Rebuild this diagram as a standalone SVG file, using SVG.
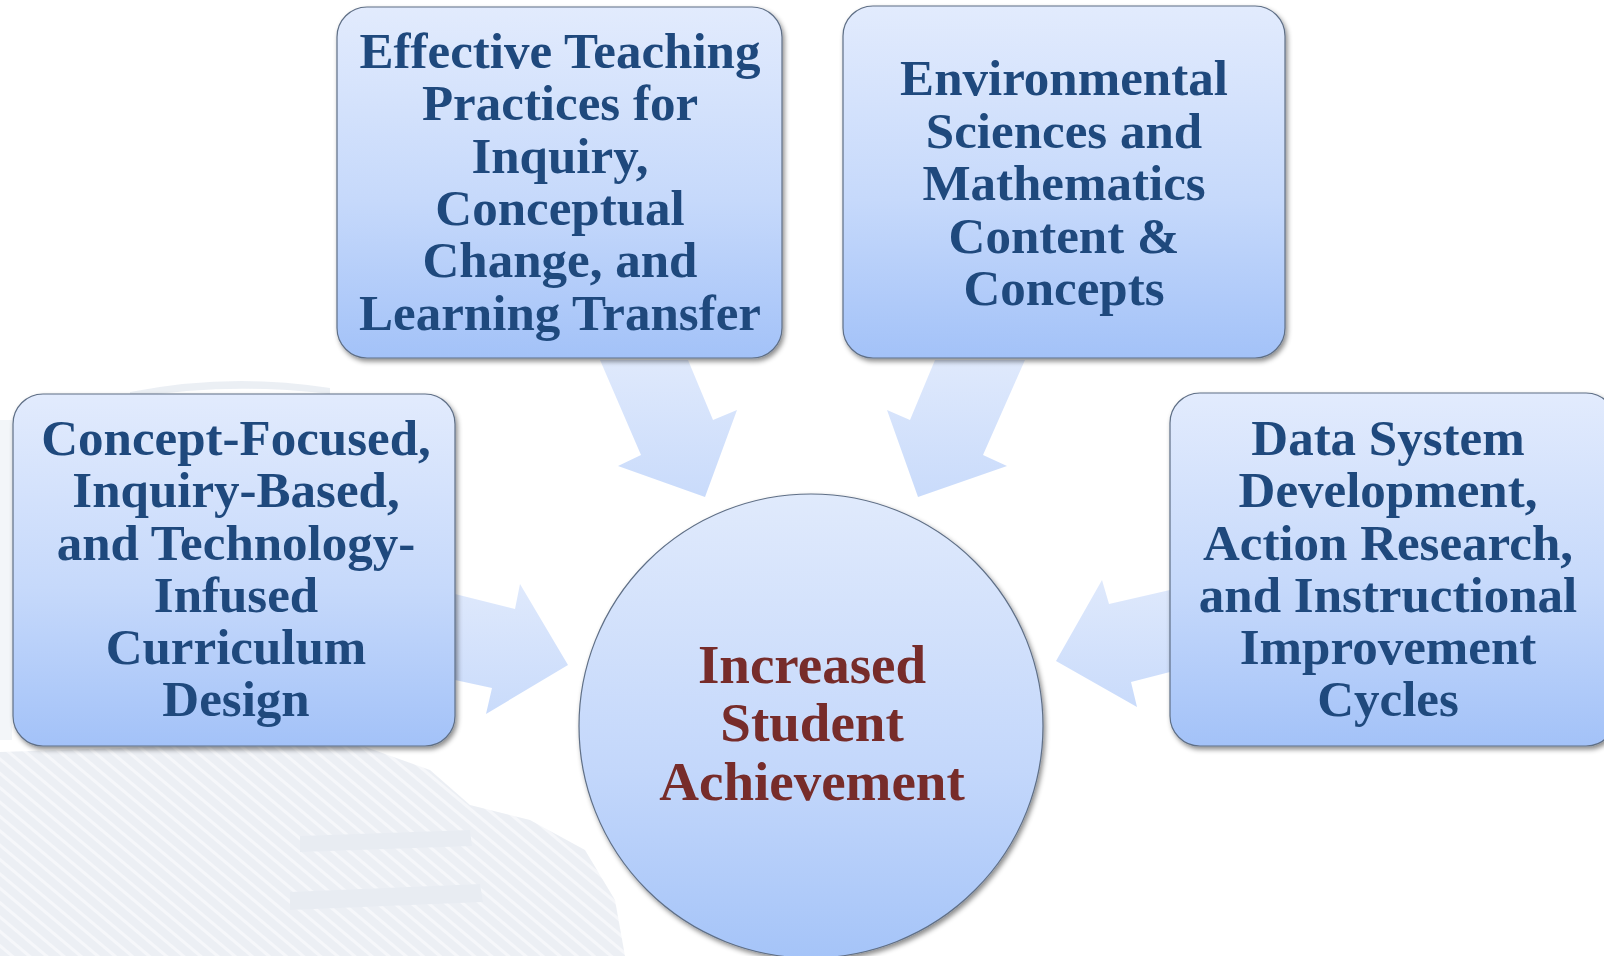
<svg xmlns="http://www.w3.org/2000/svg" width="1604" height="956" viewBox="0 0 1604 956">
<style>
.lbl{font-family:"Liberation Serif","Times New Roman",serif;font-weight:bold;font-size:51px;fill:#1f497d;text-anchor:middle}
.ctr{font-family:"Liberation Serif","Times New Roman",serif;font-weight:bold;font-size:55px;fill:#772c2a;text-anchor:middle}
.box{fill:url(#boxGrad);stroke:#5f6f86;stroke-width:1.2;filter:url(#shadow)}
.arrow{fill:url(#arrGrad)}
.wm{fill:#e5eaf1}
</style>
<defs>
<linearGradient id="boxGrad" x1="0" y1="0" x2="0" y2="1">
<stop offset="0" stop-color="#e2ebfd"/>
<stop offset="0.55" stop-color="#c6d9fb"/>
<stop offset="1" stop-color="#a3c2f8"/>
</linearGradient>
<linearGradient id="circGrad" x1="0" y1="0" x2="0" y2="1">
<stop offset="0" stop-color="#e0eafc"/>
<stop offset="0.6" stop-color="#c3d7fb"/>
<stop offset="1" stop-color="#a5c4f8"/>
</linearGradient>
<linearGradient id="arrGrad" x1="0" y1="0" x2="0" y2="1">
<stop offset="0" stop-color="#dfe9fc"/>
<stop offset="1" stop-color="#c9dbfb"/>
</linearGradient>
<filter id="shadow" x="-10%" y="-10%" width="120%" height="125%">
<feDropShadow dx="2" dy="3" stdDeviation="2.5" flood-color="#000" flood-opacity="0.45"/>
</filter>
<pattern id="hatch" width="11" height="11" patternUnits="userSpaceOnUse" patternTransform="rotate(-50)">
<rect width="11" height="11" fill="#e6eaf1"/>
<rect width="3" height="11" fill="#f3f5f9"/>
</pattern>
</defs>
<rect width="1604" height="956" fill="#ffffff"/>
<g id="watermark" opacity="0.75">
<path d="M130 392 Q230 372 330 388 L330 394 Q230 382 130 398 Z" class="wm"/>
<path d="M0 420 L12 420 L12 740 L0 740 Z" class="wm" opacity="0.6"/>
<path d="M0 752 L120 748 L250 742 L360 745 L430 770 L470 805 L530 820 L585 850 L615 900 L625 956 L0 956 Z" fill="url(#hatch)"/>
<path d="M300 836 L470 830 L472 846 L300 852 Z" fill="#e1e6ee"/>
<path d="M290 892 L480 884 L483 902 L290 910 Z" fill="#e1e6ee"/>
</g>
<g id="connectors">
<polygon class="arrow" points="600,360 688,360 713,420 737,410 705,497 618,466 641,455"/>
<polygon class="arrow" points="1025,360 935,360 910,420 887,410 918,497 1007,466 983,455"/>
<polygon class="arrow" points="455,594 515,609 520,584 568,665 486,714 492,688 455,680"/>
<polygon class="arrow" points="1170,590 1109,604 1102,580 1056,661 1137,707 1131,682 1170,672"/>
</g>
<g id="node-teaching">
<rect class="box" x="337" y="7" width="445" height="351" rx="30"/>
<text class="lbl"><tspan x="560" y="68">Effective Teaching</tspan><tspan x="560" y="120">Practices for</tspan><tspan x="560" y="173">Inquiry,</tspan><tspan x="560" y="225">Conceptual</tspan><tspan x="560" y="277">Change, and</tspan><tspan x="560" y="330">Learning Transfer</tspan></text>
</g>
<g id="node-environmental">
<rect class="box" x="843" y="6" width="442" height="352" rx="30"/>
<text class="lbl"><tspan x="1064" y="95">Environmental</tspan><tspan x="1064" y="148">Sciences and</tspan><tspan x="1064" y="200">Mathematics</tspan><tspan x="1064" y="253">Content &amp;</tspan><tspan x="1064" y="305">Concepts</tspan></text>
</g>
<g id="node-curriculum">
<rect class="box" x="13" y="394" width="442" height="352" rx="30"/>
<text class="lbl"><tspan x="236" y="455">Concept-Focused,</tspan><tspan x="236" y="507">Inquiry-Based,</tspan><tspan x="236" y="560">and Technology-</tspan><tspan x="236" y="612">Infused</tspan><tspan x="236" y="664">Curriculum</tspan><tspan x="236" y="716">Design</tspan></text>
</g>
<g id="node-data">
<rect class="box" x="1170" y="393" width="446" height="353" rx="30"/>
<text class="lbl"><tspan x="1388" y="455">Data System</tspan><tspan x="1388" y="507">Development,</tspan><tspan x="1388" y="560">Action Research,</tspan><tspan x="1388" y="612">and Instructional</tspan><tspan x="1388" y="664">Improvement</tspan><tspan x="1388" y="716">Cycles</tspan></text>
</g>
<g id="node-achievement">
<circle cx="811" cy="726" r="232" fill="url(#circGrad)" stroke="#5f6f86" stroke-width="1.2" filter="url(#shadow)"/>
<text class="ctr"><tspan x="812" y="683">Increased</tspan><tspan x="812" y="741">Student</tspan><tspan x="812" y="800">Achievement</tspan></text>
</g>
</svg>
